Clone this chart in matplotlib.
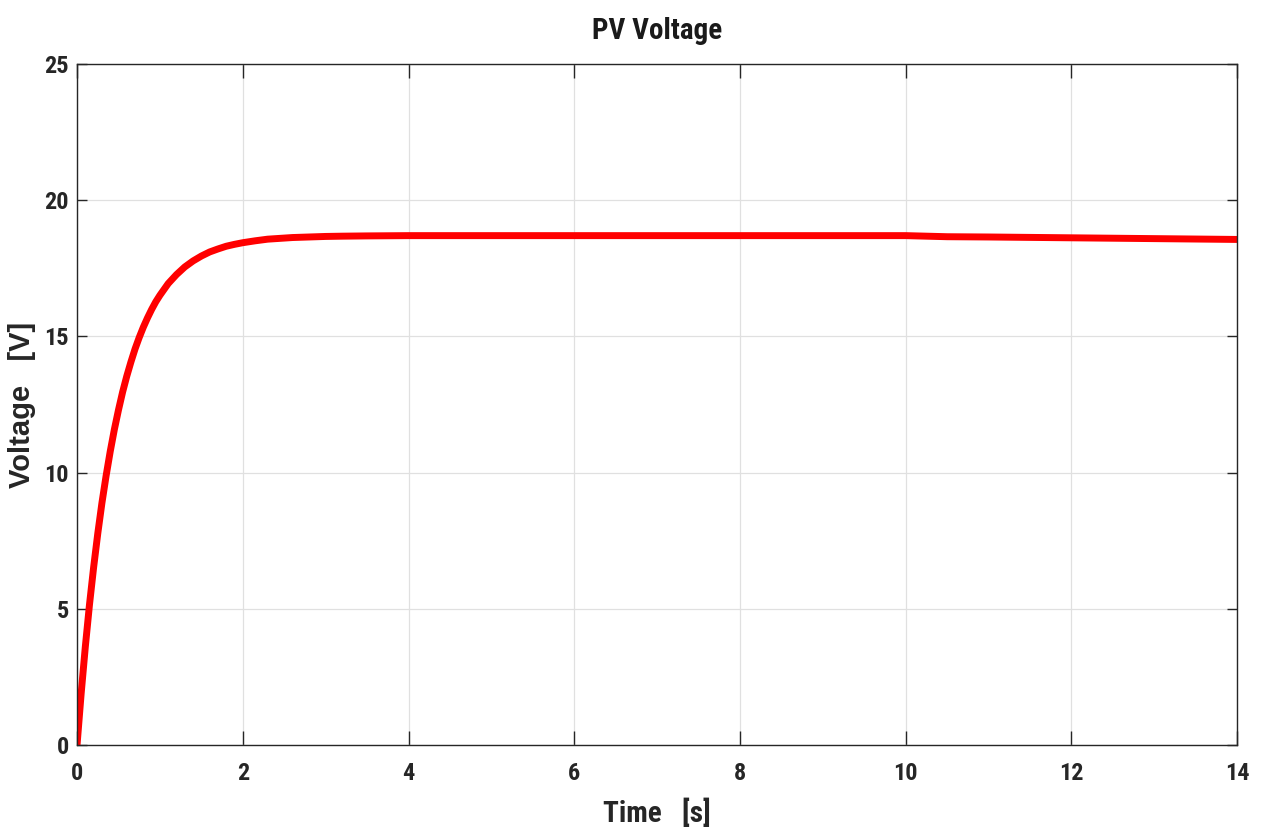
import matplotlib.pyplot as plt

# PV voltage samples
time_s = [0, 0.05, 0.1, 0.15, 0.2, 0.25, 0.3, 0.35, 0.4, 0.45, 0.5, 0.55, 0.6, 0.65, 0.7,
          0.75, 0.8, 0.85, 0.9, 0.95, 1.0, 1.1, 1.2, 1.3, 1.4, 1.5, 1.6, 1.7, 1.8, 1.9,
          2.0, 2.15, 2.3, 2.45, 2.6, 2.8, 3.0, 3.2, 3.5, 4, 5, 6, 8, 10,
          10.5, 11, 12, 13, 14]
voltage = [0, 1.90, 3.61, 5.15, 6.52, 7.76, 8.88, 9.87, 10.77, 11.58, 12.30, 12.96, 13.54, 14.06, 14.54,
           14.96, 15.34, 15.68, 15.99, 16.27, 16.51, 16.94, 17.27, 17.55, 17.77, 17.95, 18.10, 18.21, 18.31, 18.38,
           18.44, 18.51, 18.57, 18.60, 18.63, 18.65, 18.67, 18.68, 18.69, 18.70, 18.70, 18.70, 18.70, 18.70,
           18.66, 18.65, 18.62, 18.59, 18.56]

x_ticks = [0, 2, 4, 6, 8, 10, 12, 14]
y_ticks = [0, 5, 10, 15, 20, 25]

narrow = ['Roboto Condensed', 'Liberation Sans', 'DejaVu Sans']
plt.rcParams['font.family'] = narrow
plt.rcParams['font.weight'] = 'bold'

fig = plt.figure(figsize=(12.61, 8.36), dpi=100)
ax = fig.add_axes([0.0611, 0.1089, 0.9200, 0.8145])

ax.plot(time_s, voltage, color='#ff0000', linewidth=5, solid_joinstyle='round')

ax.set_xlim(0, 14)
ax.set_ylim(0, 25)
ax.set_xticks(x_ticks)
ax.set_yticks(y_ticks)
ax.grid(True, color='#e0e0e0', linewidth=0.9)
ax.set_axisbelow(True)

ax.tick_params(axis='both', direction='in', top=True, right=True,
               labelsize=17.5, colors='#262626', width=1.0)
ax.tick_params(axis='x', length=10, pad=12)
ax.tick_params(axis='y', length=7, pad=6)
for lbl in ax.get_xticklabels() + ax.get_yticklabels():
    lbl.set_fontweight('bold')
for sp in ax.spines.values():
    sp.set_color('#262626')
    sp.set_linewidth(1.0)

ax.set_title('PV Voltage', fontsize=21, fontweight='bold', pad=18, color='#1a1a1a')
ax.set_xlabel('Time   [s]', fontsize=21, fontweight='bold', labelpad=10, color='#262626')
ax.set_ylabel('Voltage   [V]', fontsize=21, fontweight='bold', labelpad=6, color='#262626',
              family=['Liberation Sans', 'DejaVu Sans'])

fig.savefig('out.png', dpi=100)
